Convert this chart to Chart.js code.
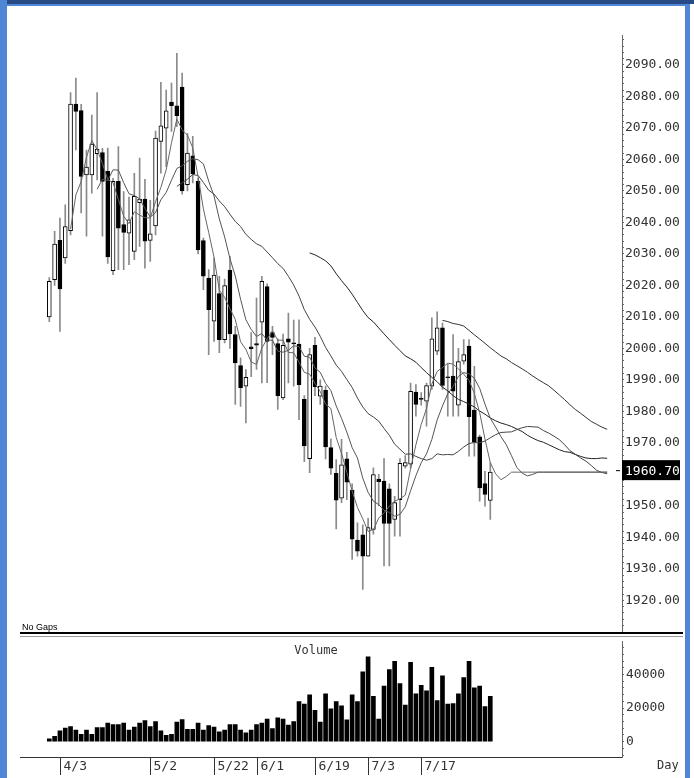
<!DOCTYPE html>
<html lang="en">
<head>
<meta charset="UTF-8">
<title>Daily candles with volume</title>
<script src="https://cdn.jsdelivr.net/npm/chart.js"></script>
<style>
  html, body { margin: 0; padding: 0; background: #fff; }
  body { width: 694px; height: 778px; position: relative; overflow: hidden; }
  #priceWrap { position: absolute; left: 0; top: 0; width: 694px; height: 640px; }
  #volWrap { position: absolute; left: 0; top: 632px; width: 694px; height: 146px; }
  .frame { position: absolute; z-index: 5; background: #4f87d6; }
</style>
</head>
<body>
<div id="priceWrap"><canvas id="priceChart"></canvas></div>
<div id="volWrap"><canvas id="volChart"></canvas></div>
<div class="frame" style="left:0;top:0;width:694px;height:4px;background:#284a85"></div>
<div class="frame" style="left:0;top:4px;width:690px;height:2px"></div>
<div class="frame" style="left:0;top:0;width:7px;height:778px"></div>
<div class="frame" style="left:685px;top:4px;width:5px;height:774px"></div>

<script>
// daily OHLC, one entry per bar
const open = [2010.0, 2021.8, 2034.3, 2028.7, 2037.4, 2077.6, 2075.5, 2055.1, 2055.1, 2061.8,
  2062.2, 2056.2, 2024.7, 2053.0, 2039.3, 2036.6, 2030.8, 2046.3, 2047.4, 2034.3,
  2038.9, 2065.7, 2069.9, 2078.2, 2077.0, 2083.0, 2052.0, 2061.1, 2053.0, 2034.2,
  2022.3, 2008.6, 2017.4, 2002.8, 2024.8, 2004.4, 1994.5, 1988.0, 2000.5, 2001.5,
  2008.3, 2019.6, 2005.0, 2001.5, 1984.3, 2003.0, 2001.8, 2001.4, 1983.8, 1965.0,
  2001.0, 1984.8, 1986.7, 1968.5, 1960.3, 1952.4, 1964.9, 1955.0, 1939.1, 1940.8,
  1934.0, 1942.5, 1958.5, 1957.9, 1955.4, 1945.7, 1952.0, 1962.6, 1963.2, 1986.1,
  1984.2, 1983.2, 1988.0, 1999.1, 2006.5, 1991.0, 1991.2, 1982.0, 1995.9, 2000.7,
  1980.4, 1971.9, 1957.1, 1951.7];
const high = [2022.5, 2037.2, 2041.4, 2045.6, 2081.2, 2085.8, 2077.5, 2063.0, 2074.1, 2081.2,
  2063.5, 2063.6, 2054.0, 2064.1, 2049.8, 2048.0, 2055.6, 2060.4, 2053.7, 2047.0,
  2069.0, 2084.5, 2082.0, 2084.2, 2093.7, 2087.4, 2068.3, 2067.3, 2054.0, 2035.0,
  2025.0, 2028.7, 2022.9, 2022.0, 2029.2, 2007.0, 1997.0, 1993.3, 2005.0, 2016.0,
  2022.9, 2020.5, 2007.0, 2003.0, 2004.5, 2011.2, 2009.0, 2009.1, 1985.0, 2000.0,
  2003.5, 1990.0, 1988.0, 1971.3, 1964.7, 1971.1, 1967.0, 1957.0, 1944.6, 1944.0,
  1946.0, 1962.1, 1960.0, 1965.0, 1957.0, 1953.0, 1965.0, 1966.0, 1989.0, 1988.5,
  1986.0, 1989.0, 2009.7, 2011.6, 2008.0, 1995.0, 2004.4, 2000.0, 2002.8, 2002.8,
  1994.3, 1972.5, 1961.0, 1963.7];
const low = [2008.5, 2020.0, 2005.4, 2027.0, 2036.0, 2063.0, 2043.0, 2035.6, 2049.3, 2053.5,
  2035.6, 2027.0, 2023.4, 2025.0, 2025.0, 2026.6, 2028.2, 2032.4, 2025.5, 2027.6,
  2036.0, 2055.6, 2057.7, 2068.9, 2070.4, 2049.0, 2050.0, 2052.5, 2030.0, 2018.6,
  1998.0, 2002.2, 1998.6, 2001.7, 2000.0, 1982.2, 1981.6, 1976.3, 1991.0, 1993.3,
  1989.0, 1989.1, 1998.0, 1980.6, 1983.7, 1989.0, 1988.0, 1977.4, 1964.0, 1960.5,
  1985.0, 1982.2, 1964.9, 1960.0, 1942.7, 1951.0, 1952.0, 1933.0, 1934.0, 1923.5,
  1934.0, 1941.0, 1950.0, 1930.9, 1930.9, 1940.4, 1940.4, 1962.0, 1962.0, 1978.5,
  1982.0, 1975.3, 1987.0, 1998.0, 1987.0, 1978.5, 1978.5, 1978.5, 1995.0, 1965.8,
  1965.8, 1951.5, 1949.9, 1945.7];
const close = [2021.3, 2033.1, 2018.9, 2038.7, 2077.6, 2075.2, 2054.6, 2057.6, 2064.9, 2063.3,
  2053.0, 2029.0, 2053.0, 2038.2, 2036.8, 2040.8, 2048.3, 2047.4, 2034.0, 2036.4,
  2066.8, 2070.7, 2075.4, 2077.1, 2073.9, 2050.0, 2062.0, 2055.4, 2031.3, 2022.9,
  2012.3, 2023.3, 2002.8, 2019.9, 2004.7, 1995.4, 1987.5, 1990.8, 1999.9, 2001.0,
  2021.3, 2002.2, 2003.5, 1985.0, 2001.0, 2002.0, 2001.4, 1988.5, 1969.0, 1998.0,
  1987.8, 1988.0, 1968.7, 1962.0, 1951.8, 1963.0, 1957.5, 1939.4, 1935.6, 1934.0,
  1943.1, 1959.9, 1957.7, 1944.4, 1944.4, 1951.0, 1963.5, 1963.7, 1986.4, 1982.2,
  1983.8, 1988.2, 2003.0, 2006.5, 1988.2, 1990.7, 1986.4, 1995.8, 1998.0, 1978.3,
  1970.2, 1955.7, 1953.6, 1960.7];
const volume = [1700, 3200, 6500, 8000, 9000, 6900, 4400, 6900, 4400, 8400,
  8400, 11000, 10100, 10100, 11000, 6900, 8600, 11000, 12600, 9000,
  12000, 6500, 3800, 4400, 11600, 13100, 7400, 7400, 11000, 6900,
  9500, 8600, 5900, 6900, 10100, 10100, 6900, 5300, 6900, 10100,
  11000, 13500, 7800, 14100, 13500, 9900, 12000, 23800, 22300, 27800,
  18700, 11600, 28400, 19600, 23800, 21300, 13000, 27800, 23800, 41500,
  50500, 26900, 13500, 33000, 42900, 47800, 34500, 21700, 47200, 28400,
  33500, 30300, 44200, 24400, 39200, 22300, 22700, 28400, 38100, 47800,
  32000, 33000, 20800, 26900];

// moving averages as drawn (they run on past the last bar at the last price)
const ma5Start = 4;
const ma5 = [2037.9, 2048.7, 2053.0, 2060.7, 2066.0, 2063.1,
  2058.7, 2053.6, 2052.6, 2047.3, 2042.0, 2039.6, 2043.4, 2042.3, 2041.5, 2041.4,
  2046.6, 2051.1, 2056.7, 2065.3, 2072.8, 2069.4, 2067.7, 2063.7, 2054.5, 2044.3,
  2036.8, 2029.0, 2018.5, 2016.2, 2012.6, 2009.2, 2002.1, 1999.7, 1995.7, 1994.9,
  2000.1, 2003.0, 2005.6, 2002.6, 2002.6, 1998.7, 1998.6, 1995.6, 1992.4, 1991.8,
  1988.9, 1986.3, 1982.3, 1980.9, 1971.7, 1966.7, 1960.6, 1954.7, 1949.5, 1945.9,
  1941.9, 1942.4, 1946.1, 1947.8, 1949.9, 1951.5, 1952.2, 1953.4, 1961.8, 1969.4,
  1975.9, 1980.9, 1988.7, 1992.7, 1993.9, 1995.3, 1995.0, 1993.5, 1991.8, 1989.8,
  1985.7, 1979.6, 1971.2, 1963.7, 1960.2, 1958.3, 1959.3,
  1960.7, 1960.7, 1960.7, 1960.7, 1960.7, 1960.7, 1960.7, 1960.7, 1960.7, 1960.7,
  1960.7, 1960.7, 1960.7, 1960.7, 1960.7, 1960.7, 1960.7, 1960.7, 1960.7];
const ma10Start = 9;
const ma10 = [2050.5, 2053.7, 2053.3, 2056.7, 2056.6, 2052.6, 2049.1, 2048.5, 2047.5, 2044.4,
  2041.7, 2043.1, 2047.2, 2049.5, 2053.4, 2057.1, 2058.0, 2059.4, 2060.2, 2059.9,
  2058.6, 2053.1, 2048.4, 2041.1, 2035.4, 2028.5, 2023.0, 2015.6, 2009.1, 2006.0,
  2003.8, 2004.7, 2002.6, 2002.6, 1999.1, 1998.8, 1999.4, 2000.8, 2000.6, 1997.5,
  1997.2, 1993.8, 1992.4, 1988.9, 1986.6, 1981.7, 1977.8, 1973.4, 1968.5, 1965.2,
  1958.8, 1954.3, 1951.5, 1950.4, 1948.6, 1947.9, 1946.7, 1947.3, 1949.7, 1954.8,
  1959.6, 1963.7, 1966.5, 1971.1, 1977.3, 1981.7, 1985.6, 1987.9, 1991.1, 1992.3,
  1991.9, 1990.5, 1987.3, 1982.3, 1977.8, 1975.0, 1972.0, 1969.4, 1965.9, 1962.2,
  1960.4, 1959.5, 1960.0,
  1960.7, 1960.7, 1960.7, 1960.7, 1960.7, 1960.7, 1960.7, 1960.7, 1960.7, 1960.7,
  1960.7, 1960.7, 1960.7, 1960.7];
const ma25Start = 24;
const ma25 = [2051.4, 2052.6, 2053.7, 2055.2, 2054.9, 2052.7, 2050.2, 2049.0, 2046.8, 2045.0,
  2042.6, 2040.3, 2038.7, 2036.2, 2034.6, 2033.2, 2032.4, 2030.6, 2028.8, 2026.9,
  2025.4, 2022.9, 2020.1, 2016.6, 2012.3, 2009.2, 2006.8, 2003.8, 2000.3, 1997.6,
  1994.7, 1992.7, 1990.1, 1987.6, 1984.2, 1981.4, 1979.3, 1978.2, 1976.9, 1974.6,
  1972.4, 1969.6, 1968.0, 1966.4, 1966.5, 1965.7, 1965.0, 1964.5, 1965.0, 1966.5,
  1966.2, 1966.3, 1966.2, 1967.3, 1968.7, 1969.8, 1970.1, 1970.0, 1970.6, 1971.6,
  1972.6, 1973.3, 1973.4, 1973.5, 1974.2, 1974.8, 1975.2, 1975.1, 1975.0, 1973.9,
  1973.1, 1972.1, 1971.0, 1969.4, 1967.5, 1966.4, 1965.2, 1964.2, 1962.8, 1961.3,
  1960.6, 1960.2];
const ma50Start = 49;
const ma50 = [2030.3, 2029.7, 2028.8, 2027.8, 2026.2, 2023.7, 2021.5, 2019.5, 2017.2, 2014.6,
  2012.0, 2009.8, 2008.4, 2006.5, 2004.6, 2002.8, 2001.0, 1999.3, 1997.6, 1996.7,
  1995.6, 1993.9, 1992.3, 1990.8, 1989.4, 1987.7, 1986.5, 1985.0, 1983.8, 1983.1,
  1982.3, 1981.4, 1980.1, 1979.1, 1977.9, 1977.0, 1976.3, 1975.8, 1975.2, 1974.4,
  1973.6, 1972.4, 1971.5, 1970.7, 1970.2, 1969.4, 1968.6, 1967.8, 1967.2, 1967.0,
  1966.3, 1965.7, 1965.2, 1965.0, 1965.0, 1965.2, 1965.1];
const ma75Start = 74;
const ma75 = [2008.9, 2008.5, 2007.9, 2007.6, 2007.1, 2005.7, 2004.3, 2003.0, 2001.6, 2000.2,
  1998.9, 1997.6, 1996.7, 1995.5, 1994.5, 1993.5, 1992.4, 1991.2, 1990.1, 1989.1,
  1988.1, 1986.7, 1985.2, 1983.7, 1982.1, 1980.6, 1979.4, 1978.1, 1976.8, 1975.9,
  1975.0, 1974.3];

const lastPrice = 1960.70;
const dateLabels = ['4/3', '5/2', '5/22', '6/1', '6/19', '7/3', '7/17'];
const dateIdx = [2, 19, 31, 39, 50, 60, 70];

// shared x range so both panels line up
const X_MIN = -9.28, X_MAX = 107.79;
const AXIS_W = 72;
const MONO = 'DejaVu Sans Mono';

function maPoints(start, vals) {
  return vals.map((v, k) => ({ x: start + k, y: v }));
}

const wickData = close.map((c, i) => ({ x: i, y: [low[i], high[i]] }));
const bodyData = close.map((c, i) => ({ x: i, y: [open[i], c] }));
const bodyFill = close.map((c, i) => (c >= open[i] ? '#ffffff' : '#000000'));

const pricePlugin = {
  id: 'priceExtras',
  afterDraw(chart) {
    const ctx = chart.ctx;
    const y = chart.scales.y.getPixelForValue(lastPrice) - 2;
    const ax = chart.chartArea.right;
    ctx.save();
    // last price marker and box
    ctx.strokeStyle = '#000';
    ctx.lineWidth = 1;
    ctx.beginPath();
    ctx.moveTo(ax - 6, y + 0.5);
    ctx.lineTo(ax - 2, y + 0.5);
    ctx.stroke();
    ctx.fillStyle = '#000';
    ctx.fillRect(ax, y - 10, 58, 20);
    ctx.fillStyle = '#fff';
    ctx.font = '13px "' + MONO + '"';
    ctx.textBaseline = 'middle';
    ctx.textAlign = 'left';
    ctx.fillText(lastPrice.toFixed(2), ax + 3, y + 1);
    // footer note
    ctx.fillStyle = '#000';
    ctx.font = '9px "Liberation Sans"';
    ctx.textBaseline = 'alphabetic';
    ctx.fillText('No Gaps', 22, 630);
    ctx.restore();
  }
};

new Chart(document.getElementById('priceChart'), {
  type: 'bar',
  data: {
    datasets: [
      { type: 'bar', data: wickData, backgroundColor: '#8a8a8a', barThickness: 1, grouped: false, order: 3 },
      { type: 'bar', data: bodyData, backgroundColor: bodyFill, borderColor: '#000', borderWidth: 1,
        borderSkipped: false, barThickness: 4, grouped: false, order: 2 },
      { type: 'line', data: maPoints(ma5Start, ma5), borderColor: '#666', borderWidth: 1, pointRadius: 0, order: 1 },
      { type: 'line', data: maPoints(ma10Start, ma10), borderColor: '#555', borderWidth: 1, pointRadius: 0, order: 1 },
      { type: 'line', data: maPoints(ma25Start, ma25), borderColor: '#444', borderWidth: 1, pointRadius: 0, order: 1 },
      { type: 'line', data: maPoints(ma50Start, ma50), borderColor: '#222', borderWidth: 1, pointRadius: 0, order: 1 },
      { type: 'line', data: maPoints(ma75Start, ma75), borderColor: '#333', borderWidth: 1, pointRadius: 0, order: 1 }
    ]
  },
  options: {
    responsive: true,
    maintainAspectRatio: false,
    animation: false,
    layout: { padding: { top: 35, bottom: 8, left: 0, right: 0 } },
    plugins: { legend: { display: false }, tooltip: { enabled: false } },
    scales: {
      x: { type: 'linear', min: X_MIN, max: X_MAX, offset: false, display: false },
      y: {
        position: 'right',
        min: 1910.2,
        max: 2099.5,
        afterFit(scale) { scale.width = AXIS_W; },
        afterBuildTicks(scale) {
          const t = [];
          for (let v = 1912; v <= 2098; v += 2) t.push({ value: v });
          scale.ticks = t;
        },
        grid: { drawOnChartArea: false, drawTicks: true, tickLength: 2, color: '#666' },
        border: { display: true, color: '#666' },
        ticks: {
          autoSkip: false,
          padding: 1,
          color: '#333',
          font: { family: MONO, size: 13 },
          callback: v => (v % 10 === 0 && v !== 1960 ? v.toFixed(2) : '')
        }
      }
    }
  },
  plugins: [pricePlugin]
});

const volPlugin = {
  id: 'volExtras',
  afterDraw(chart) {
    const ctx = chart.ctx;
    const area = chart.chartArea;
    const xs = chart.scales.x;
    ctx.save();
    // separator lines
    ctx.fillStyle = '#000';
    ctx.fillRect(20, 0, 663, 2);
    ctx.fillStyle = '#9a9a9a';
    ctx.fillRect(20, 4, 663, 1);
    // bottom axis
    ctx.fillStyle = '#333';
    ctx.fillRect(20, area.bottom, area.right - 20, 1);
    ctx.font = '13px "' + MONO + '"';
    ctx.textBaseline = 'middle';
    ctx.textAlign = 'left';
    dateIdx.forEach((idx, k) => {
      const px = Math.round(xs.getPixelForValue(idx)) + 0.5;
      ctx.strokeStyle = '#333';
      ctx.beginPath();
      ctx.moveTo(px, area.bottom);
      ctx.lineTo(px, area.bottom + 18);
      ctx.stroke();
      ctx.fillStyle = '#333';
      ctx.fillText(dateLabels[k], px + 3, area.bottom + 10);
    });
    ctx.font = '12px "' + MONO + '"';
    ctx.fillText('Day', 657, area.bottom + 9);
    // panel title
    ctx.font = '12px "' + MONO + '"';
    ctx.textAlign = 'center';
    ctx.fillText('Volume', 316, 19);
    ctx.restore();
  }
};

new Chart(document.getElementById('volChart'), {
  type: 'bar',
  data: {
    datasets: [{
      data: volume.map((v, i) => ({ x: i, y: v })),
      backgroundColor: '#000',
      barThickness: 4
    }]
  },
  options: {
    responsive: true,
    maintainAspectRatio: false,
    animation: false,
    layout: { padding: { top: 5, bottom: 21, left: 0, right: 0 } },
    plugins: { legend: { display: false }, tooltip: { enabled: false } },
    scales: {
      x: { type: 'linear', min: X_MIN, max: X_MAX, offset: false, display: false },
      y: {
        position: 'right',
        min: -9143,
        max: 59429,
        afterFit(scale) { scale.width = AXIS_W; },
        afterBuildTicks(scale) {
          const t = [];
          for (let v = -8000; v <= 56000; v += 4000) t.push({ value: v });
          scale.ticks = t;
        },
        grid: { drawOnChartArea: false, drawTicks: true, tickLength: 2, color: '#666' },
        border: { display: true, color: '#666' },
        ticks: {
          autoSkip: false,
          padding: 2,
          color: '#333',
          font: { family: MONO, size: 13 },
          callback: v => (v >= 0 && v % 20000 === 0 ? String(v) : '')
        }
      }
    }
  },
  plugins: [volPlugin]
});
</script>
</body>
</html>
